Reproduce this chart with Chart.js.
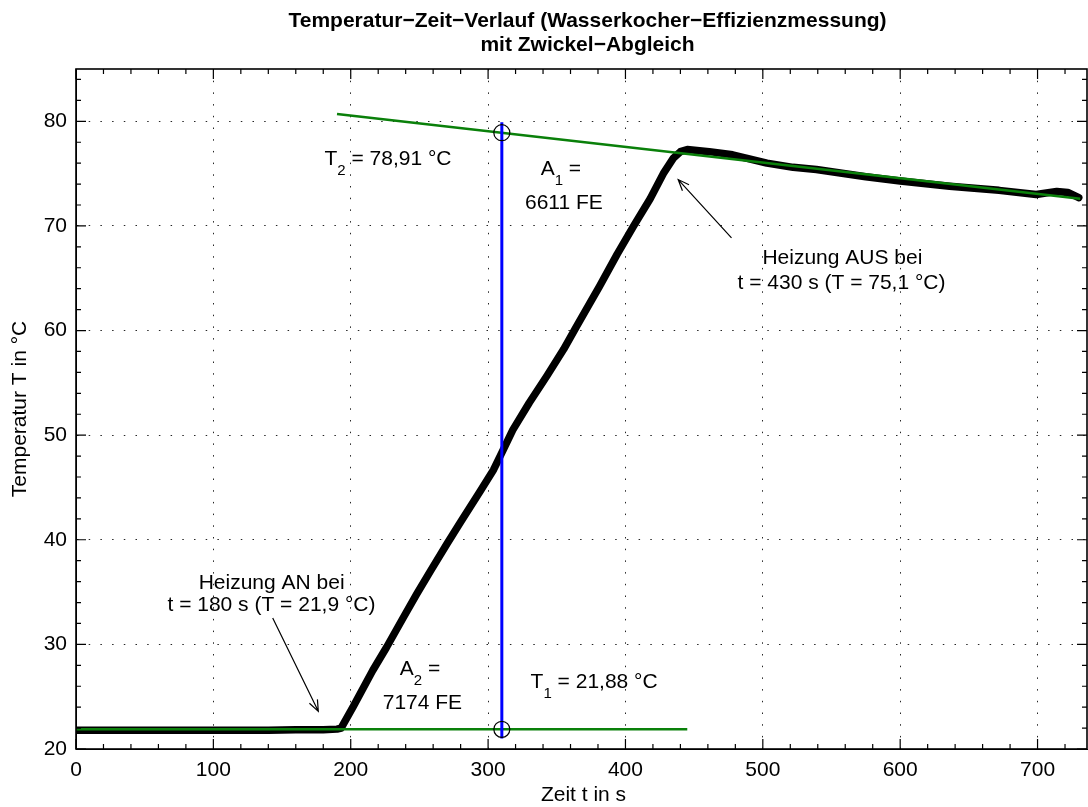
<!DOCTYPE html>
<html><head><meta charset="utf-8">
<script src="https://cdn.jsdelivr.net/npm/chart.js@4.4.0/dist/chart.umd.min.js"></script>
<style>html,body{margin:0;padding:0;background:#fff;overflow:hidden}#wrap{width:1088px;height:807px}canvas{display:block}</style>
</head><body><div id="wrap"><canvas id="c" width="1088" height="807"></canvas></div>
<script>
// ---- data ----
const timeS = [0, 50, 100, 140, 160, 180, 190, 193, 202, 216, 226, 238, 248, 258, 270, 280, 294, 304, 311, 318, 330, 343, 355, 364, 374, 381, 394, 406, 418, 428, 435, 440, 445, 461, 478, 503, 522, 539, 575, 600, 636, 672, 699, 714, 722, 730];
const tempC = [21.8, 21.8, 21.8, 21.8, 21.85, 21.85, 21.9, 22.0, 24.1, 27.5, 29.7, 32.5, 34.8, 37.0, 39.6, 41.7, 44.6, 46.7, 48.6, 50.5, 53.1, 55.7, 58.2, 60.3, 62.6, 64.2, 67.3, 70.0, 72.6, 75.1, 76.5, 77.1, 77.3, 77.1, 76.8, 76.0, 75.6, 75.4, 74.7, 74.3, 73.8, 73.4, 73.0, 73.3, 73.2, 72.7];
const fitLowT = [0, 445];
const fitLowY = [21.88, 21.88];
const fitHighT = [190, 731];
const fitHighY = [80.7, 72.6];
const cutT = [310, 310];
const cutY = [21.0, 79.9];
const markT = [310, 310];
const markY = [78.91, 21.88];
const xTicks = [0, 100, 200, 300, 400, 500, 600, 700];
const yTicks = [20, 30, 40, 50, 60, 70, 80];
const titleLines = ['Temperatur\u2212Zeit\u2212Verlauf (Wasserkocher\u2212Effizienzmessung)', 'mit Zwickel\u2212Abgleich'];
const xTitle = 'Zeit t in s';
const yTitle = 'Temperatur T in \u00b0C';
// text annotations: [t, T, parts]  (parts: [text, isSubscript])
const notes = [
  [227.1, 76.34, [['T', 0], ['2', 1], [' = 78,91 \u00b0C', 0]]],
  [353.0, 75.38, [['A', 0], ['1', 1], [' =', 0]]],
  [355.2, 72.16, [['6611 FE', 0]]],
  [557.9, 66.94, [['Heizung AUS bei', 0]]],
  [557.3, 64.55, [['t = 430 s (T = 75,1 \u00b0C)', 0]]],
  [142.4, 35.87, [['Heizung AN bei', 0]]],
  [142.3, 33.77, [['t = 180 s (T = 21,9 \u00b0C)', 0]]],
  [250.4, 27.58, [['A', 0], ['2', 1], [' =', 0]]],
  [252.2, 24.40, [['7174 FE', 0]]],
  [377.2, 26.37, [['T', 0], ['1', 1], [' = 21,88 \u00b0C', 0]]]
];
// arrows: [fromT, fromY, toT, toY]
const arrows = [
  [477.2, 68.85, 438.4, 74.43],
  [143.2, 32.52, 176.4, 23.60]
];

const FONT = "'Liberation Sans', Arial, Helvetica, sans-serif";
Chart.defaults.font.family = FONT;
Chart.defaults.font.size = 21;
Chart.defaults.color = '#000';

const pts = (xs, ys) => xs.map((x, i) => ({x: x, y: ys[i]}));

const decor = {
  id: 'decor',
  afterDraw(chart) {
    const ctx = chart.ctx, a = chart.chartArea;
    const xs = chart.scales.x, ys = chart.scales.y;
    ctx.save();
    // frame
    ctx.strokeStyle = '#000';
    ctx.lineWidth = 1.6;
    ctx.setLineDash([]);
    ctx.strokeRect(a.left, a.top, a.right - a.left, a.bottom - a.top);
    // inward ticks
    ctx.lineWidth = 1.2;
    ctx.beginPath();
    for (let v = 0; v <= xs.max; v += 20) {
      const p = xs.getPixelForValue(v);
      const L = (v % 100 === 0) ? 10 : 5;
      ctx.moveTo(p, a.bottom); ctx.lineTo(p, a.bottom - L);
      ctx.moveTo(p, a.top); ctx.lineTo(p, a.top + L);
    }
    for (let v = 20; v <= ys.max; v += 2) {
      const p = ys.getPixelForValue(v);
      const L = (v % 10 === 0) ? 10 : 5;
      ctx.moveTo(a.left, p); ctx.lineTo(a.left + L, p);
      ctx.moveTo(a.right, p); ctx.lineTo(a.right - L, p);
    }
    ctx.stroke();
    // title
    const cx = (a.left + a.right) / 2;
    ctx.fillStyle = '#000';
    ctx.textAlign = 'center';
    ctx.textBaseline = 'middle';
    ctx.font = 'bold 21px ' + FONT;
    ctx.fillText(titleLines[0], cx + 6, 21);
    ctx.fillText(titleLines[1], cx + 6, 45);
    // axis titles
    ctx.font = '21px ' + FONT;
    ctx.fillText(xTitle, cx + 2, 795);
    ctx.save();
    ctx.translate(20, (a.top + a.bottom) / 2);
    ctx.rotate(-Math.PI / 2);
    ctx.fillText(yTitle, 0, 0);
    ctx.restore();
    // annotations
    ctx.textAlign = 'left';
    notes.forEach(n => {
      const px = xs.getPixelForValue(n[0]), py = ys.getPixelForValue(n[1]);
      let w = 0;
      n[2].forEach(p => { ctx.font = (p[1] ? '15px ' : '21px ') + FONT; w += ctx.measureText(p[0]).width; });
      let x = px - w / 2;
      n[2].forEach(p => {
        ctx.font = (p[1] ? '15px ' : '21px ') + FONT;
        ctx.fillText(p[0], x, p[1] ? py + 11 : py);
        x += ctx.measureText(p[0]).width;
      });
    });
    // arrows
    ctx.lineWidth = 1.2;
    ctx.strokeStyle = '#000';
    arrows.forEach(r => {
      const x1 = xs.getPixelForValue(r[0]), y1 = ys.getPixelForValue(r[1]);
      const x2 = xs.getPixelForValue(r[2]), y2 = ys.getPixelForValue(r[3]);
      const ang = Math.atan2(y2 - y1, x2 - x1);
      const h = 12, s = 0.38;
      ctx.beginPath();
      ctx.moveTo(x1, y1); ctx.lineTo(x2, y2);
      ctx.moveTo(x2 - h * Math.cos(ang - s), y2 - h * Math.sin(ang - s));
      ctx.lineTo(x2, y2);
      ctx.lineTo(x2 - h * Math.cos(ang + s), y2 - h * Math.sin(ang + s));
      ctx.stroke();
    });
    ctx.restore();
  }
};

new Chart(document.getElementById('c'), {
  type: 'scatter',
  data: {
    datasets: [
      {data: pts(timeS, tempC), showLine: true, borderColor: '#000', borderWidth: 7.5, pointRadius: 0, order: 4, borderJoinStyle: 'round', borderCapStyle: 'round'},
      {data: pts(fitLowT, fitLowY), showLine: true, borderColor: '#0a800a', borderWidth: 2.5, pointRadius: 0, order: 3},
      {data: pts(fitHighT, fitHighY), showLine: true, borderColor: '#0a800a', borderWidth: 2.5, pointRadius: 0, order: 3},
      {data: pts(cutT, cutY), showLine: true, borderColor: '#0000ff', borderWidth: 3, pointRadius: 0, order: 2},
      {data: pts(markT, markY), showLine: false, borderColor: '#000', backgroundColor: 'rgba(0,0,0,0)', borderWidth: 1.2, pointRadius: 8, pointStyle: 'circle', order: 1}
    ]
  },
  options: {
    responsive: false,
    animation: false,
    events: [],
    layout: {autoPadding: false, padding: {top: 69, left: 0, right: 1, bottom: 0}},
    plugins: {legend: {display: false}, title: {display: false}, tooltip: {enabled: false}},
    scales: {
      x: {
        type: 'linear', min: 0, max: 736,
        afterBuildTicks: s => { s.ticks = xTicks.map(v => ({value: v})); },
        afterFit: s => { s.height = 58; },
        ticks: {padding: 9, font: {size: 21}, color: '#000', maxRotation: 0, autoSkip: false},
        grid: {color: 'rgba(0,0,0,0.85)', lineWidth: 1, drawTicks: false},
        border: {display: true, color: '#000', width: 1, dash: [1.5, 10.2]}
      },
      y: {
        type: 'linear', min: 20, max: 85,
        afterBuildTicks: s => { s.ticks = yTicks.map(v => ({value: v})); },
        afterFit: s => { s.width = 76; },
        ticks: {padding: 9, font: {size: 21}, color: '#000', autoSkip: false},
        grid: {color: 'rgba(0,0,0,0.85)', lineWidth: 1, drawTicks: false},
        border: {display: true, color: '#000', width: 1, dash: [1.5, 10.2]}
      }
    }
  },
  plugins: [decor]
});
</script>
</body></html>
